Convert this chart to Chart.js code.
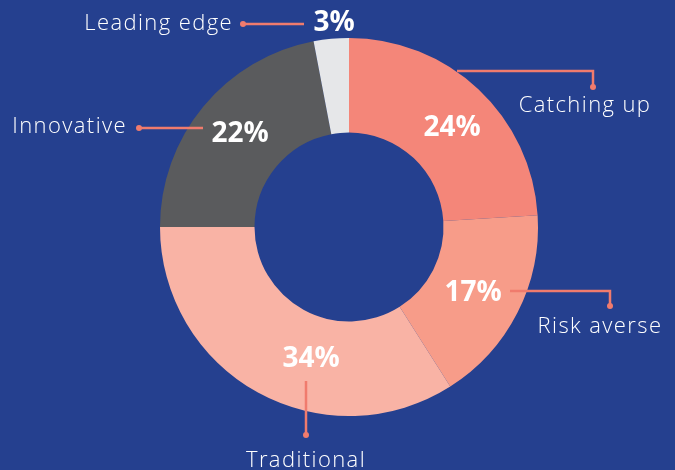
<!DOCTYPE html>
<html>
<head>
<meta charset="utf-8">
<script src="https://cdn.jsdelivr.net/npm/chart.js@4"></script>
<style>
  html, body { margin: 0; padding: 0; background: #25408f; }
  #wrap { width: 675px; height: 470px; }
</style>
</head>
<body>
<div id="wrap"><canvas id="c" width="675" height="470"></canvas></div>
<script>
const categories = ["Catching up", "Risk averse", "Traditional", "Innovative", "Leading edge"];
const shares = [24, 17, 34, 22, 3];
const sliceColors = ["#f48679", "#f79c89", "#f9b3a5", "#5a5b5d", "#e6e7e9"];

// callout layout, px offsets from the ring centre at a 189px outer radius
const callouts = [
  { pct: [103, -99], path: [[108, -156], [244, -156], [244, -140]], label: [236, -115], align: "center" },
  { pct: [124, 66], path: [[161, 64], [261, 64], [261, 79]], label: [251, 106], align: "center" },
  { pct: [-38, 132], path: [[-43, 154], [-43, 208]], label: [-43, 240], align: "center" },
  { pct: [-109, -93], path: [[-146, -99], [-210, -99]], label: [-222, -94], align: "right" },
  { pct: [-15, -204], path: [[-45, -203], [-106, -203]], label: [-116, -197], align: "right" },
];

const LINE = "#f07b6d";

const calloutPlugin = {
  id: "callouts",
  afterDatasetsDraw(chart) {
    const ctx = chart.ctx;
    const arcs = chart.getDatasetMeta(0).data;
    if (!arcs.length) return;
    const cx = arcs[0].x, cy = arcs[0].y;
    const u = arcs[0].outerRadius / 189;
    const P = (p) => [cx + p[0] * u, cy + p[1] * u];
    ctx.save();
    callouts.forEach((c, i) => {
      // connector
      ctx.strokeStyle = LINE;
      ctx.lineWidth = 2.5;
      ctx.beginPath();
      c.path.forEach((p, k) => {
        const [x, y] = P(p);
        k ? ctx.lineTo(x, y) : ctx.moveTo(x, y);
      });
      ctx.stroke();
      const end = P(c.path[c.path.length - 1]);
      ctx.fillStyle = LINE;
      ctx.beginPath();
      ctx.arc(end[0], end[1], 3, 0, Math.PI * 2);
      ctx.fill();

      // value
      const [px, py] = P(c.pct);
      ctx.fillStyle = "#ffffff";
      ctx.letterSpacing = "0px";
      ctx.font = "bold 28px 'Open Sans'";
      ctx.textAlign = "center";
      ctx.textBaseline = "middle";
      ctx.fillText(shares[i] + "%", px, py);

      // category name
      const [lx, ly] = P(c.label);
      ctx.letterSpacing = "1.4px";
      ctx.font = "300 22px 'Open Sans'";
      ctx.textAlign = c.align;
      ctx.textBaseline = "alphabetic";
      ctx.fillText(categories[i], lx, ly);
    });
    ctx.restore();
  },
};

new Chart(document.getElementById("c"), {
  type: "doughnut",
  data: {
    labels: categories,
    datasets: [{
      data: shares,
      backgroundColor: sliceColors,
      borderWidth: 0,
    }],
  },
  options: {
    responsive: false,
    animation: false,
    cutout: "50%",
    layout: { padding: { top: 38, bottom: 54, left: 160, right: 137 } },
    plugins: { legend: { display: false }, tooltip: { enabled: false } },
  },
  plugins: [calloutPlugin],
});
</script>
</body>
</html>
